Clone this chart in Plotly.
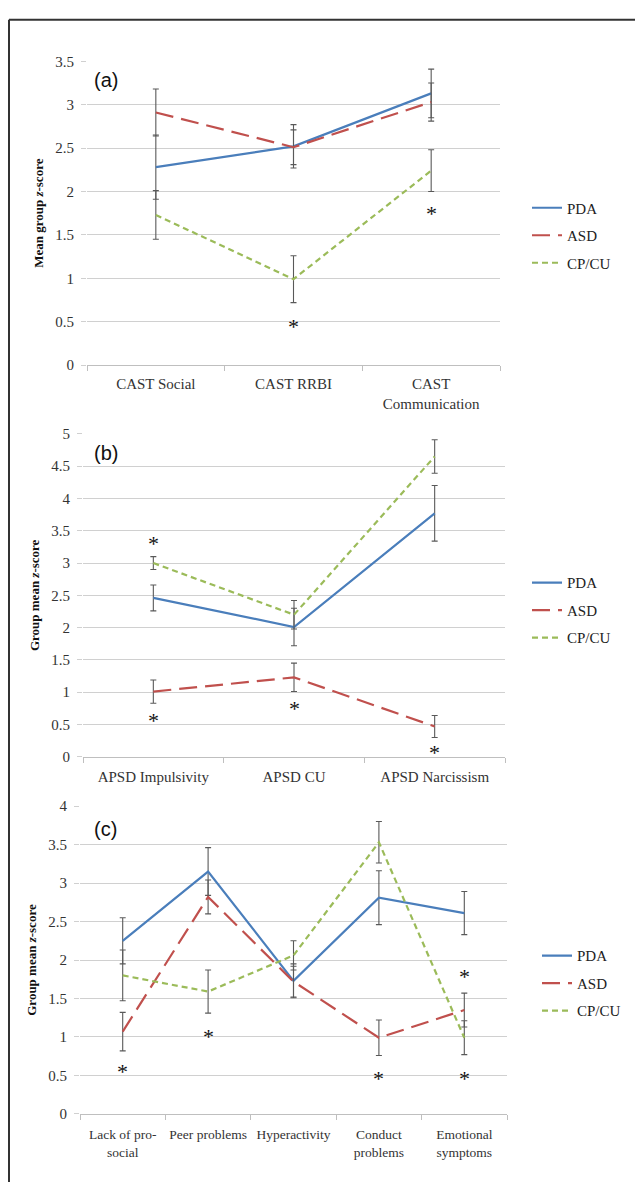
import plotly.graph_objects as go

# ---------------- data ----------------
cats_a = ["CAST Social", "CAST RRBI", "CAST<br>Communication"]
pda_a = [2.28, 2.52, 3.13]
pda_a_err = [0.37, 0.25, 0.28]
asd_a = [2.91, 2.51, 3.03]
asd_a_err = [0.27, 0.20, 0.22]
cpcu_a = [1.73, 0.99, 2.24]
cpcu_a_err = [0.28, 0.27, 0.24]
star_a_x = ["CAST RRBI", "CAST<br>Communication"]
star_a_y = [0.47, 1.77]

cats_b = ["APSD Impulsivity", "APSD CU", "APSD Narcissism"]
pda_b = [2.46, 2.01, 3.77]
pda_b_err = [0.20, 0.29, 0.43]
asd_b = [1.01, 1.23, 0.47]
asd_b_err = [0.18, 0.22, 0.17]
cpcu_b = [3.00, 2.20, 4.65]
cpcu_b_err = [0.10, 0.22, 0.26]
star_b_x = ["APSD Impulsivity", "APSD Impulsivity", "APSD CU", "APSD Narcissism", "APSD Narcissism"]
star_b_y = [3.33, 0.60, 0.78, 5.12, 0.10]

cats_c = ["Lack of pro-<br>social", "Peer problems", "Hyperactivity",
          "Conduct<br>problems", "Emotional<br>symptoms"]
pda_c = [2.25, 3.15, 1.73, 2.81, 2.61]
pda_c_err = [0.30, 0.31, 0.22, 0.35, 0.28]
asd_c = [1.07, 2.82, 1.72, 0.99, 1.35]
asd_c_err = [0.25, 0.22, 0.20, 0.23, 0.22]
cpcu_c = [1.80, 1.59, 2.06, 3.53, 0.99]
cpcu_c_err = [0.33, 0.28, 0.19, 0.27, 0.22]
star_c_x = ["Lack of pro-<br>social", "Peer problems", "Conduct<br>problems",
            "Emotional<br>symptoms", "Emotional<br>symptoms"]
star_c_y = [0.58, 1.03, 0.48, 1.81, 0.48]

series_names = ["PDA", "ASD", "CP/CU"]
panel_labels = ["(a)", "(b)", "(c)"]
y_titles = ["Mean group <i>z</i>-score", "Group mean <i>z</i>-score", "Group mean <i>z</i>-score"]
y_ranges = [3.5, 5, 4]

# ---------------- styling ----------------
W, H = 635, 1190
SERIF = "Liberation Serif"
colors = ["#4a7ebb", "#c0504d", "#9bbb59"]
dashes = ["solid", "18px,8px", "6px,4px"]
err_color = "#595959"

panels = [
    dict(cats=cats_a, vals=[pda_a, asd_a, cpcu_a], errs=[pda_a_err, asd_a_err, cpcu_a_err],
         sx=star_a_x, sy=star_a_y, xpx=(87, 500), ypx=(362, 54), leg=(527, 186), lab=(92, 73),
         fs=15, so=5),
    dict(cats=cats_b, vals=[pda_b, asd_b, cpcu_b], errs=[pda_b_err, asd_b_err, cpcu_b_err],
         sx=star_b_x, sy=star_b_y, xpx=(83, 505), ypx=(759, 431.7), leg=(527, 566), lab=(92, 451),
         fs=15, so=6),
    dict(cats=cats_c, vals=[pda_c, asd_c, cpcu_c], errs=[pda_c_err, asd_c_err, cpcu_c_err],
         sx=star_c_x, sy=star_c_y, xpx=(80, 507), ypx=(1121, 809), leg=(537, 944), lab=(92, 832),
         fs=13.5, so=8),
]

fig = go.Figure()
annotations = []
layout_axes = {}

for i, p in enumerate(panels):
    sfx = "" if i == 0 else str(i + 1)
    xa, ya = "x" + sfx, "y" + sfx
    legname = "legend" + sfx
    for j, name in enumerate(series_names):
        fig.add_trace(go.Scatter(
            x=p["cats"], y=p["vals"][j], name=name, mode="lines",
            line=dict(color=colors[j], width=2.2, dash=dashes[j]),
            error_y=dict(type="data", array=p["errs"][j], color=err_color, thickness=1.1, width=3),
            xaxis=xa, yaxis=ya, legend=legname, legendgroup=f"{i}{j}",
            hoverinfo="skip",
        ))
    for sx, sy in zip(p["sx"], p["sy"]):
        annotations.append(dict(
            x=sx, y=sy, xref=xa, yref=ya, text="*", showarrow=False,
            font=dict(family=SERIF, size=22, color="#111"), yshift=-2,
        ))
    x0, x1 = p["xpx"]
    yb, yt = p["ypx"]
    layout_axes["xaxis" + sfx] = dict(
        domain=[x0 / W, x1 / W], anchor=ya, type="category",
        range=[-0.5, len(p["cats"]) - 0.5], showgrid=False,
        showline=True, linecolor="#bfbfbf", linewidth=1,
        ticks="outside", tickson="boundaries", ticklen=5, tickcolor="#bfbfbf",
        tickangle=0, ticklabelstandoff=p["so"],
        tickfont=dict(family=SERIF, size=p["fs"], color="#333"), fixedrange=True,
    )
    layout_axes["yaxis" + sfx] = dict(
        domain=[1 - yb / H, 1 - yt / H], anchor=xa, range=[0, y_ranges[i]], dtick=0.5,
        showgrid=True, gridcolor="#d0d0d0", gridwidth=1, zeroline=False, showline=False,
        ticks="outside", ticklen=5, tickcolor="#d0d0d0", ticklabelstandoff=4,
        tickfont=dict(family=SERIF, size=15, color="#333"),
        title=dict(text="<b>" + y_titles[i] + "</b>", font=dict(family=SERIF, size=13, color="#111"),
                   standoff=8),
        fixedrange=True,
    )
    lx, ly = p["leg"]
    layout_axes[legname] = dict(
        x=lx / W, y=1 - ly / H, xanchor="left", yanchor="top",
        font=dict(family=SERIF, size=15, color="#222"), bgcolor="rgba(0,0,0,0)",
        traceorder="grouped", tracegroupgap=5, itemwidth=30,
    )
    annotations.append(dict(
        x=p["lab"][0] / W, y=1 - p["lab"][1] / H, xref="paper", yref="paper",
        xanchor="left", yanchor="middle", text=panel_labels[i], showarrow=False,
        font=dict(family="Liberation Sans", size=20, color="#111"),
    ))

fig.update_layout(
    width=W, height=H, margin=dict(l=0, r=0, t=0, b=0),
    paper_bgcolor="white", plot_bgcolor="white",
    annotations=annotations, showlegend=True,
    shapes=[
        dict(type="line", xref="paper", yref="paper", x0=9 / W, x1=1, y0=1 - 12 / H, y1=1 - 12 / H,
             line=dict(color="#333", width=2)),
        dict(type="line", xref="paper", yref="paper", x0=9 / W, x1=9 / W, y0=0, y1=1 - 12 / H,
             line=dict(color="#333", width=2)),
    ],
    **layout_axes,
)

fig.write_html(
    "out.html",
    config={"displayModeBar": False, "staticPlot": True},
    post_script="document.body.style.margin='0px';document.body.style.overflow='hidden';",
)
